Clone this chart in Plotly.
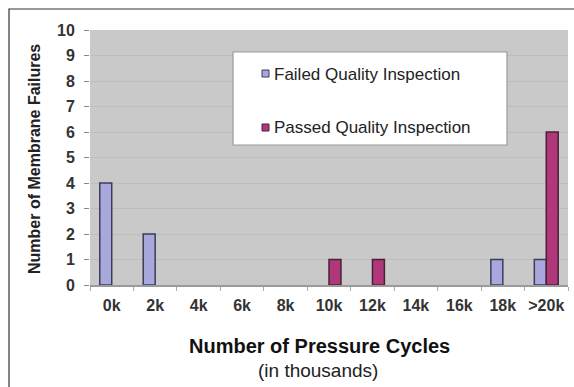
import plotly.graph_objects as go

categories = ["0k", "2k", "4k", "6k", "8k", "10k", "12k", "14k", "16k", "18k", ">20k"]
failed = [4, 2, 0, 0, 0, 0, 0, 0, 0, 1, 1]
passed = [0, 0, 0, 0, 0, 1, 1, 0, 0, 0, 6]
y_ticks = list(range(0, 11))

W, H = 574, 387
L, R, T, B = 90, 6, 30, 102
pw, ph = W - L - R, H - T - B

def px_x(px):
    return (px - L) / pw

def px_y(py):
    return (H - B - py) / ph

def nz(vals):
    # zero-count bins draw no bar (and no outline)
    return [v if v > 0 else None for v in vals]

fig = go.Figure()
fig.add_trace(go.Bar(x=categories, y=nz(failed), name="Failed Quality Inspection",
                     marker=dict(color="#a8a8dc", line=dict(color="#3c3c5c", width=1.5)),
                     showlegend=False))
fig.add_trace(go.Bar(x=categories, y=nz(passed), name="Passed Quality Inspection",
                     marker=dict(color="#b0387a", line=dict(color="#4a2038", width=1.5)),
                     showlegend=False))

shapes = [
    dict(type="rect", xref="paper", yref="paper", x0=px_x(9), x1=px_x(590),
         y0=px_y(400), y1=px_y(9), line=dict(color="#333333", width=1.2),
         fillcolor="rgba(0,0,0,0)", layer="above"),
    dict(type="rect", xref="paper", yref="paper", x0=px_x(233), x1=px_x(507),
         y0=px_y(145), y1=px_y(52), line=dict(color="#9a9a9a", width=1.2),
         fillcolor="white", layer="above"),
    dict(type="rect", xref="paper", yref="paper", x0=px_x(262), x1=px_x(269),
         y0=px_y(77), y1=px_y(70), line=dict(color="#3c3c5c", width=1),
         fillcolor="#a8a8dc", layer="above"),
    dict(type="rect", xref="paper", yref="paper", x0=px_x(262), x1=px_x(269),
         y0=px_y(131), y1=px_y(124), line=dict(color="#4a2038", width=1),
         fillcolor="#b0387a", layer="above"),
]

annotations = [
    dict(text="Failed Quality Inspection", xref="paper", yref="paper",
         x=px_x(272), y=px_y(74), xanchor="left", yanchor="middle", showarrow=False,
         font=dict(family="Arial", size=17, color="#222222")),
    dict(text="Passed Quality Inspection", xref="paper", yref="paper",
         x=px_x(272), y=px_y(128), xanchor="left", yanchor="middle", showarrow=False,
         font=dict(family="Arial", size=17, color="#222222")),
    dict(text="Number of Membrane Failures", xref="paper", yref="paper",
         x=px_x(34), y=px_y(159), textangle=-90, xanchor="center", yanchor="middle",
         showarrow=False, font=dict(family="Arial", size=16, color="#222222", weight="bold")),
    dict(text="Number of Pressure Cycles", xref="paper", yref="paper",
         x=px_x(319), y=px_y(346), xanchor="center", yanchor="middle",
         showarrow=False, font=dict(family="Arial", size=20, color="#111111", weight="bold")),
    dict(text="(in thousands)", xref="paper", yref="paper",
         x=px_x(318), y=px_y(370), xanchor="center", yanchor="middle",
         showarrow=False, font=dict(family="Arial", size=19, color="#222222")),
]

fig.update_layout(
    width=W, height=H,
    margin=dict(l=L, r=R, t=T, b=B),
    paper_bgcolor="white",
    plot_bgcolor="#c9c9c9",
    barmode="group",
    bargap=0.45,
    bargroupgap=0.0,
    shapes=shapes,
    annotations=annotations,
    showlegend=False,
)
fig.update_xaxes(
    type="category", categoryorder="array", categoryarray=categories,
    showgrid=False, showline=True, linecolor="#9a9a9a", linewidth=2,
    ticks="outside", tickson="boundaries", ticklen=4, tickcolor="#aaaaaa",
    ticklabelstandoff=5, tickangle=0,
    tickfont=dict(family="Arial", size=16, color="#333333", weight="bold"),
)
fig.update_yaxes(
    range=[0, 10], tickvals=y_ticks, showgrid=True, gridcolor="#bdbdbd", gridwidth=1,
    zeroline=False, showline=False, ticks="outside", ticklen=5, tickcolor="#888888",
    ticklabelstandoff=6,
    tickfont=dict(family="Arial", size=16, color="#333333", weight="bold"),
)

fig.write_html("out.html")
